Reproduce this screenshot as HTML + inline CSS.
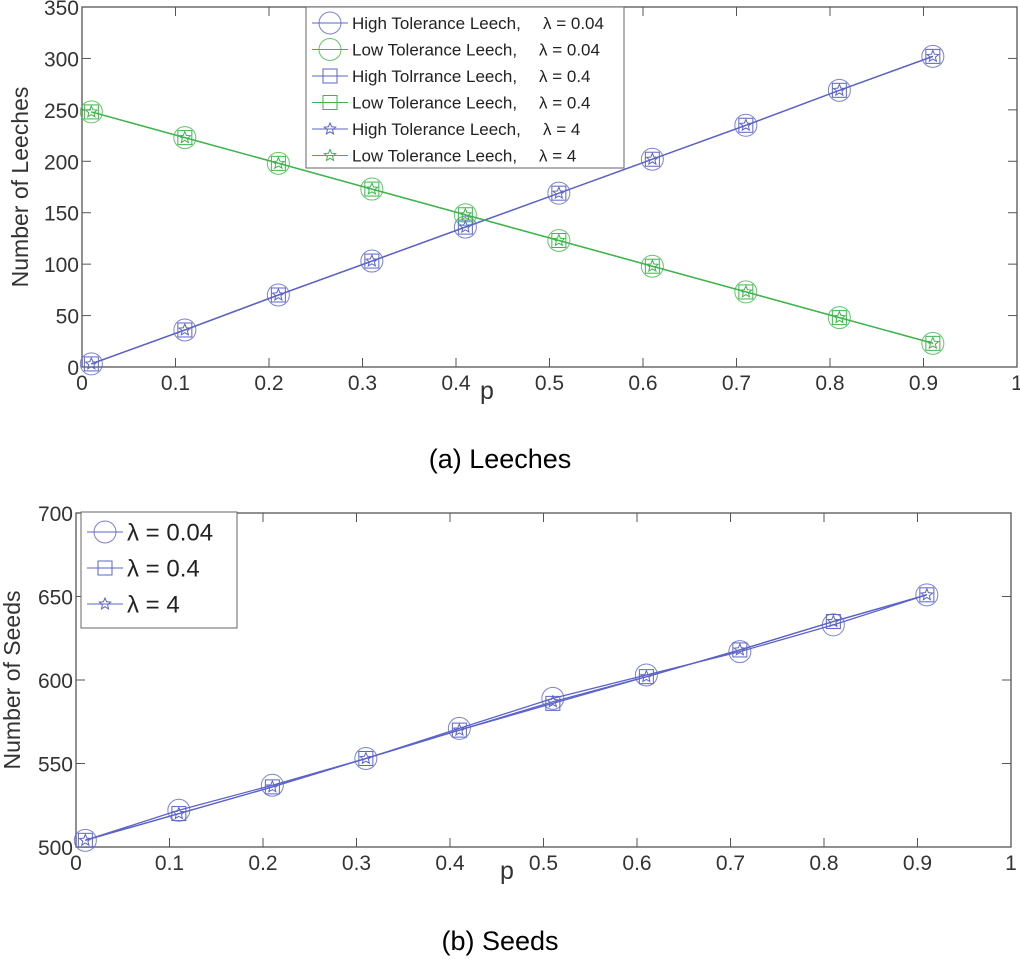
<!DOCTYPE html>
<html><head><meta charset="utf-8"><style>
body{margin:0;background:#fff;}
svg{display:block;font-family:"Liberation Sans","DejaVu Sans",sans-serif;}
</style></head><body>
<svg id="c" width="1020" height="959"></svg>
<script>
const xCats=[0.01,0.11,0.21,0.31,0.41,0.51,0.61,0.71,0.81,0.91];
const highLeech=[3,36,70,103,136,169,202,235,269,302];
const lowLeech=[248,223,198,173,148,123,98,73,48,23];
const seeds004=[504,522,537,553,571,589,603,617,633,651];
const seeds04=[504,520,536,553,570,586,602,618,635,651];
const seeds4=[504,520,536,553,570,587,602,618,635,651];
const xTicks=[0,0.1,0.2,0.3,0.4,0.5,0.6,0.7,0.8,0.9,1];
const xTickLabels=['0','0.1','0.2','0.3','0.4','0.5','0.6','0.7','0.8','0.9','1'];
const yTicksA=[0,50,100,150,200,250,300,350];
const yTicksB=[500,550,600,650,700];

const svg=document.getElementById('c');
const NS='http://www.w3.org/2000/svg';
function mk(t,a,p){const e=document.createElementNS(NS,t);for(const k in a)e.setAttribute(k,a[k]);(p||svg).appendChild(e);return e;}
const BLUE='#5b63c9',GREEN='#3cb54a';

function star(g,cx,cy,r,col){let pts=[];for(let i=0;i<10;i++){const a=-Math.PI/2+i*Math.PI/5;const rr=i%2?r*0.45:r;pts.push((cx+rr*Math.cos(a)).toFixed(1)+','+(cy+rr*Math.sin(a)).toFixed(1));}
 const s=mk('polygon',{points:pts.join(' '),fill:'none',stroke:col,'stroke-width':1},g);
 
 }
function marker(g,type,cx,cy,col){
 if(type==='o'){const e=mk('circle',{cx:cx,cy:cy,r:11,fill:'none',stroke:col,'stroke-width':1,opacity:0.8},g);}
 else if(type==='s'){const e=mk('rect',{x:cx-7,y:cy-7,width:14,height:14,fill:'none',stroke:col,'stroke-width':1},g);}
 else star(g,cx,cy,6,col);}

function chart(o){
 const X=v=>o.l+(o.r-o.l)*v;
 const Y=v=>o.b-(o.b-o.t)*(v-o.ymin)/(o.ymax-o.ymin);
 const g=mk('g',{});
 const fr=mk('rect',{x:o.l,y:o.t,width:o.r-o.l,height:o.b-o.t,fill:'none',stroke:'#555','stroke-width':1.3},g);
 
 xTicks.forEach((v,i)=>{const x=X(v);
  mk('line',{x1:x,y1:o.b,x2:x,y2:o.b-9,stroke:'#555'},g);mk('line',{x1:x,y1:o.t,x2:x,y2:o.t+9,stroke:'#555'},g);
  const t=mk('text',{x:x,y:o.b+23,'font-size':21,fill:'#333','text-anchor':'middle'},g);t.textContent=xTickLabels[i];
  });
 o.yt.forEach(v=>{const y=Y(v);
  mk('line',{x1:o.l,y1:y,x2:o.l+9,y2:y,stroke:'#555'},g);mk('line',{x1:o.r,y1:y,x2:o.r-9,y2:y,stroke:'#555'},g);
  const t=mk('text',{x:o.l-3,y:y+8,'font-size':21,fill:'#333','text-anchor':'end'},g);t.textContent=v;
  });
 const yl=mk('text',{x:0,y:0,'font-size':23,fill:'#333','text-anchor':'middle',transform:`translate(${o.ylx},${(o.t+o.b)/2}) rotate(-90)`},g);yl.textContent=o.ylabel;
 
 const xl=mk('text',{x:o.xlx,y:o.b+32,'font-size':25,fill:'#333','text-anchor':'middle'},g);xl.textContent='p';
 
 o.series.forEach(s=>{const sg=mk('g',{},g);
  const d=s.vals.map((v,i)=>(i?'L':'M')+X(xCats[i]).toFixed(1)+','+Y(v).toFixed(1)).join('');
  const p=mk('path',{d:d,fill:'none',stroke:s.col,'stroke-width':1.3},sg);
  s.vals.forEach((v,i)=>marker(sg,s.m,X(xCats[i]),Y(v),s.col));});
 const cap=mk('text',{x:500,y:o.capY,'font-size':27,fill:'#000','text-anchor':'middle'},g);cap.textContent=o.cap;
 
 const lg=mk('g',{},g);
 const L=o.leg;mk('rect',{x:L.x,y:L.y,width:L.w,height:L.h,fill:'#fff',stroke:'#666','stroke-width':1},lg);
 L.items.forEach((it,i)=>{const cy=L.y+L.y0+i*L.dy;const eg=mk('g',{},lg);
  mk('line',{x1:L.x+6,y1:cy,x2:L.x+6+L.lw,y2:cy,stroke:it.col},eg);marker(eg,it.m,L.x+6+L.lw/2,cy,it.col);
  const t=mk('text',{x:L.x+L.lw+10,y:cy+L.fs*0.36,'font-size':L.fs,fill:'#222'},eg);t.textContent=it.label;
  if(it.lam){const t2=mk('text',{x:L.x+it.lx,y:cy+L.fs*0.36,'font-size':L.fs,fill:'#222'},eg);t2.textContent=it.lam;}});
}

chart({name:'leeches-chart',l:82,r:1017,t:7,b:367,ymin:0,ymax:350,yt:yTicksA,ylabel:'Number of Leeches',ylx:28,xlx:487,cap:'(a)  Leeches',capY:468,
 series:[{name:'high-tolerance-004',vals:highLeech,col:BLUE,m:'o'},{name:'low-tolerance-004',vals:lowLeech,col:GREEN,m:'o'},
  {name:'high-tolerance-04',vals:highLeech,col:BLUE,m:'s'},{name:'low-tolerance-04',vals:lowLeech,col:GREEN,m:'s'},
  {name:'high-tolerance-4',vals:highLeech,col:BLUE,m:'*'},{name:'low-tolerance-4',vals:lowLeech,col:GREEN,m:'*'}],
 leg:{x:306,y:7,w:318,h:161,y0:16,dy:26.5,lw:36,fs:17,items:[
  {label:'High Tolerance Leech,',lam:'λ = 0.04',lx:237,col:BLUE,m:'o'},
  {label:'Low Tolerance Leech,',lam:'λ = 0.04',lx:233,col:GREEN,m:'o'},
  {label:'High Tolrrance Leech,',lam:'λ = 0.4',lx:233,col:BLUE,m:'s'},
  {label:'Low Tolerance Leech,',lam:'λ = 0.4',lx:233,col:GREEN,m:'s'},
  {label:'High Tolerance Leech,',lam:'λ = 4',lx:237,col:BLUE,m:'*'},
  {label:'Low Tolerance Leech,',lam:'λ = 4',lx:233,col:GREEN,m:'*'}]}});

chart({name:'seeds-chart',l:76,r:1011,t:513,b:847,ymin:500,ymax:700,yt:yTicksB,ylabel:'Number of Seeds',ylx:20,xlx:507,cap:'(b)  Seeds',capY:950,
 series:[{name:'seeds-lambda-004',vals:seeds004,col:BLUE,m:'o'},{name:'seeds-lambda-04',vals:seeds04,col:BLUE,m:'s'},{name:'seeds-lambda-4',vals:seeds4,col:BLUE,m:'*'}],
 leg:{x:81,y:512,w:156,h:116,y0:20,dy:36,lw:36,fs:24,items:[
  {label:'λ = 0.04',col:BLUE,m:'o'},{label:'λ = 0.4',col:BLUE,m:'s'},{label:'λ = 4',col:BLUE,m:'*'}]}});
</script>
</body></html>
